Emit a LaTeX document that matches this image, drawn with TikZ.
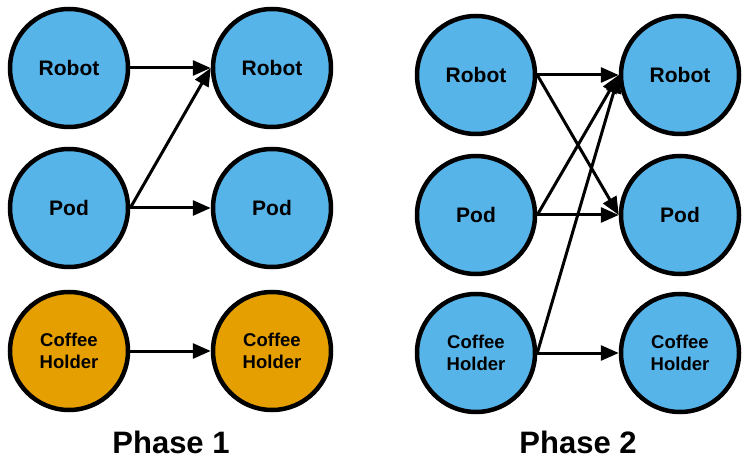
\documentclass[tikz,border=0pt]{standalone}
\usepackage{fontspec}
\setmainfont{Liberation Sans}
\usetikzlibrary{arrows.meta}
\definecolor{skyb}{HTML}{56B4E9}
\definecolor{orng}{HTML}{E69F00}
\begin{document}
\begin{tikzpicture}[x=1pt,y=-1pt,
  state/.style={circle,draw=black,line width=4.5pt,minimum size=118pt,inner sep=0pt,fill=skyb,align=center},
  robotnode/.style={state,font=\fontsize{21}{24}\selectfont\bfseries},
  coffnode/.style={state,font=\fontsize{18.5}{22}\selectfont\bfseries},
  link/.style={line width=3pt,-{Triangle[length=18pt,width=15pt]}},
  title/.style={font=\fontsize{31}{36}\selectfont\bfseries}]
\useasboundingbox (0,0) rectangle (747,465);
% Phase 1
\node[robotnode] (a1) at (69,68) {Robot};
\node[robotnode] (b1) at (272,68) {Robot};
\node[robotnode] (a2) at (69,208) {Pod};
\node[robotnode] (b2) at (272,208) {Pod};
\node[coffnode,fill=orng] (a3) at (69,351) {Coffee\\Holder};
\node[coffnode,fill=orng] (b3) at (272,351) {Coffee\\Holder};
\draw[link] (a1.east) -- (b1.west);
\draw[link] (a2.east) -- (b1.west);
\draw[link] (a2.east) -- (b2.west);
\draw[link] (a3.east) -- (b3.west);
\node[title] (t1) at (171,442) {Phase 1};
% Phase 2
\node[robotnode] (c1) at (476,75) {Robot};
\node[robotnode] (d1) at (680,75) {Robot};
\node[robotnode] (c2) at (476,215) {Pod};
\node[robotnode] (d2) at (680,215) {Pod};
\node[coffnode] (c3) at (476,353) {Coffee\\Holder};
\node[coffnode] (d3) at (680,353) {Coffee\\Holder};
\draw[link] (c1.east) -- (d1.west);
\draw[link] (c1.east) -- (d2.west);
\draw[link] (c2.east) -- (d1.west);
\draw[link] (c2.east) -- (d2.west);
\draw[link] (c3.east) -- (d1.west);
\draw[link] (c3.east) -- (d3.west);
\node[title] (t2) at (578,442) {Phase 2};
\end{tikzpicture}
\end{document}
